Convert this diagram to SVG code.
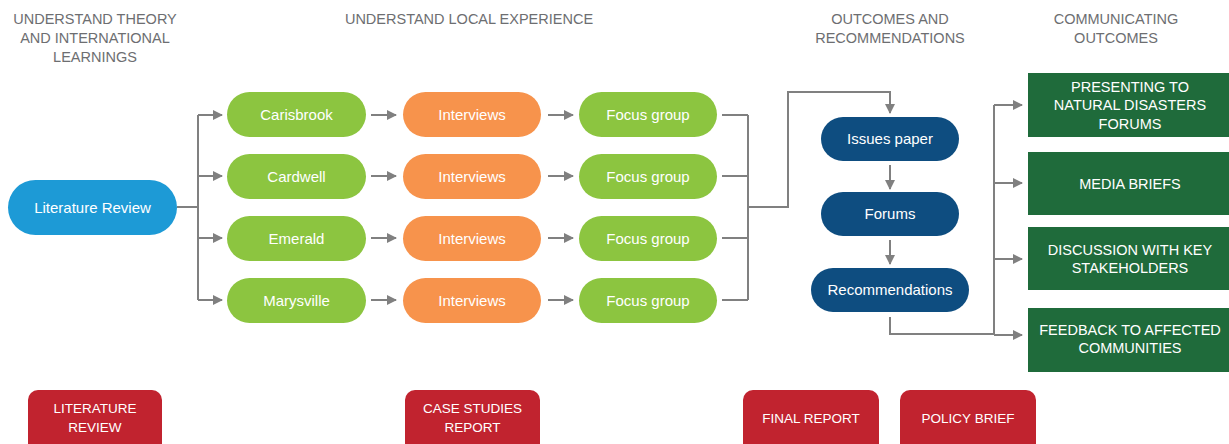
<svg xmlns="http://www.w3.org/2000/svg" width="1229" height="444" viewBox="0 0 1229 444">
  <style>
    .hdr { font-family: "Liberation Sans", Arial, sans-serif; font-size: 14.5px; fill: #6d6e71; text-anchor: middle; }
    .lbl { font-family: "Liberation Sans", Arial, sans-serif; font-size: 15px; fill: #ffffff; text-anchor: middle; }
    .cap { font-family: "Liberation Sans", Arial, sans-serif; font-size: 14.5px; fill: #ffffff; text-anchor: middle; }
    .tag { font-family: "Liberation Sans", Arial, sans-serif; font-size: 13.5px; fill: #ffffff; text-anchor: middle; }
    .blue { fill: #1d9ad6; }
    .lime { fill: #8cc540; }
    .orange { fill: #f7934c; }
    .navy { fill: #0e4d80; }
    .forest { fill: #1f6b3b; }
    .red { fill: #c1232f; }
    .conn { fill: none; stroke: #808080; stroke-width: 2; }
  </style>
  <defs>
    <marker id="arrow" viewBox="0 0 10 10" refX="9" refY="5" markerWidth="5" markerHeight="5" orient="auto" markerUnits="strokeWidth">
      <path d="M0,0 L10,5 L0,10 z" fill="#808080"/>
    </marker>
  </defs>

  <rect width="1229" height="444" fill="#ffffff"/>

  <!-- column headings -->
  <g id="headings">
    <text class="hdr" x="95" y="24">UNDERSTAND THEORY</text>
    <text class="hdr" x="95" y="43">AND INTERNATIONAL</text>
    <text class="hdr" x="95" y="62">LEARNINGS</text>
    <text class="hdr" x="469" y="24">UNDERSTAND LOCAL EXPERIENCE</text>
    <text class="hdr" x="890" y="24">OUTCOMES AND</text>
    <text class="hdr" x="890" y="43">RECOMMENDATIONS</text>
    <text class="hdr" x="1116" y="24">COMMUNICATING</text>
    <text class="hdr" x="1116" y="43">OUTCOMES</text>
  </g>

  <!-- connectors -->
  <g id="connectors" class="conn">
    <path d="M177,207 H198"/>
    <path d="M198,115 V300"/>
    <path d="M198,115 H222" marker-end="url(#arrow)"/>
    <path d="M198,176 H222" marker-end="url(#arrow)"/>
    <path d="M198,238 H222" marker-end="url(#arrow)"/>
    <path d="M198,300 H222" marker-end="url(#arrow)"/>

    <path d="M371,115 H396" marker-end="url(#arrow)"/>
    <path d="M371,176 H396" marker-end="url(#arrow)"/>
    <path d="M371,238 H396" marker-end="url(#arrow)"/>
    <path d="M371,300 H396" marker-end="url(#arrow)"/>

    <path d="M548,115 H573" marker-end="url(#arrow)"/>
    <path d="M548,176 H573" marker-end="url(#arrow)"/>
    <path d="M548,238 H573" marker-end="url(#arrow)"/>
    <path d="M548,300 H573" marker-end="url(#arrow)"/>

    <path d="M722,115 H748"/>
    <path d="M722,176 H748"/>
    <path d="M722,238 H748"/>
    <path d="M722,300 H748"/>
    <path d="M748,115 V300"/>
    <path d="M748,207 H788 V92 H890 V113" marker-end="url(#arrow)"/>

    <path d="M890,165 V189" marker-end="url(#arrow)"/>
    <path d="M890,240 V264" marker-end="url(#arrow)"/>
    <path d="M890,317 V334 H994"/>

    <path d="M994,105 V335"/>
    <path d="M994,105 H1022" marker-end="url(#arrow)"/>
    <path d="M994,183 H1022" marker-end="url(#arrow)"/>
    <path d="M994,259 H1022" marker-end="url(#arrow)"/>
    <path d="M994,335 H1022" marker-end="url(#arrow)"/>
  </g>

  <!-- theory -->
  <g id="literature-review">
    <rect class="blue" x="8" y="180" width="169" height="55" rx="27.5"/>
    <text class="lbl" x="92.5" y="212.5">Literature Review</text>
  </g>

  <!-- case study sites -->
  <g id="carisbrook">
    <rect class="lime" x="227" y="92" width="139" height="45" rx="22.5"/>
    <text class="lbl" x="296.5" y="120">Carisbrook</text>
  </g>
  <g id="cardwell">
    <rect class="lime" x="227" y="154" width="139" height="45" rx="22.5"/>
    <text class="lbl" x="296.5" y="182">Cardwell</text>
  </g>
  <g id="emerald">
    <rect class="lime" x="227" y="216" width="139" height="45" rx="22.5"/>
    <text class="lbl" x="296.5" y="244">Emerald</text>
  </g>
  <g id="marysville">
    <rect class="lime" x="227" y="278" width="139" height="45" rx="22.5"/>
    <text class="lbl" x="296.5" y="306">Marysville</text>
  </g>

  <!-- interviews -->
  <g id="interviews-1">
    <rect class="orange" x="403" y="92" width="138" height="45" rx="22.5"/>
    <text class="lbl" x="472" y="120">Interviews</text>
  </g>
  <g id="interviews-2">
    <rect class="orange" x="403" y="154" width="138" height="45" rx="22.5"/>
    <text class="lbl" x="472" y="182">Interviews</text>
  </g>
  <g id="interviews-3">
    <rect class="orange" x="403" y="216" width="138" height="45" rx="22.5"/>
    <text class="lbl" x="472" y="244">Interviews</text>
  </g>
  <g id="interviews-4">
    <rect class="orange" x="403" y="278" width="138" height="45" rx="22.5"/>
    <text class="lbl" x="472" y="306">Interviews</text>
  </g>

  <!-- focus groups -->
  <g id="focus-group-1">
    <rect class="lime" x="579" y="92" width="138" height="45" rx="22.5"/>
    <text class="lbl" x="648" y="120">Focus group</text>
  </g>
  <g id="focus-group-2">
    <rect class="lime" x="579" y="154" width="138" height="45" rx="22.5"/>
    <text class="lbl" x="648" y="182">Focus group</text>
  </g>
  <g id="focus-group-3">
    <rect class="lime" x="579" y="216" width="138" height="45" rx="22.5"/>
    <text class="lbl" x="648" y="244">Focus group</text>
  </g>
  <g id="focus-group-4">
    <rect class="lime" x="579" y="278" width="138" height="45" rx="22.5"/>
    <text class="lbl" x="648" y="306">Focus group</text>
  </g>

  <!-- outcomes -->
  <g id="issues-paper">
    <rect class="navy" x="821" y="117" width="138" height="44" rx="22"/>
    <text class="lbl" x="890" y="144">Issues paper</text>
  </g>
  <g id="forums">
    <rect class="navy" x="821" y="192" width="138" height="44" rx="22"/>
    <text class="lbl" x="890" y="219">Forums</text>
  </g>
  <g id="recommendations">
    <rect class="navy" x="811" y="268" width="158" height="44" rx="22"/>
    <text class="lbl" x="890" y="295">Recommendations</text>
  </g>

  <!-- communication -->
  <g id="presenting">
    <rect class="forest" x="1028" y="73" width="205" height="64"/>
    <text class="cap" x="1130" y="92">PRESENTING TO</text>
    <text class="cap" x="1130" y="110">NATURAL DISASTERS</text>
    <text class="cap" x="1130" y="129">FORUMS</text>
  </g>
  <g id="media-briefs">
    <rect class="forest" x="1028" y="152" width="205" height="63"/>
    <text class="cap" x="1130" y="189">MEDIA BRIEFS</text>
  </g>
  <g id="discussion">
    <rect class="forest" x="1028" y="227" width="205" height="63"/>
    <text class="cap" x="1130" y="255">DISCUSSION WITH KEY</text>
    <text class="cap" x="1130" y="273">STAKEHOLDERS</text>
  </g>
  <g id="feedback">
    <rect class="forest" x="1028" y="308" width="205" height="64"/>
    <text class="cap" x="1130" y="335">FEEDBACK TO AFFECTED</text>
    <text class="cap" x="1130" y="353">COMMUNITIES</text>
  </g>

  <!-- deliverables -->
  <g id="deliverable-literature-review">
    <rect class="red" x="28" y="390" width="134" height="70" rx="10"/>
    <text class="tag" x="95" y="413">LITERATURE</text>
    <text class="tag" x="95" y="432">REVIEW</text>
  </g>
  <g id="deliverable-case-studies">
    <rect class="red" x="405" y="390" width="135" height="70" rx="10"/>
    <text class="tag" x="472.5" y="413">CASE STUDIES</text>
    <text class="tag" x="472.5" y="432">REPORT</text>
  </g>
  <g id="deliverable-final-report">
    <rect class="red" x="743" y="390" width="136" height="70" rx="10"/>
    <text class="tag" x="811" y="423">FINAL REPORT</text>
  </g>
  <g id="deliverable-policy-brief">
    <rect class="red" x="900" y="390" width="136" height="70" rx="10"/>
    <text class="tag" x="968" y="423">POLICY BRIEF</text>
  </g>
</svg>
